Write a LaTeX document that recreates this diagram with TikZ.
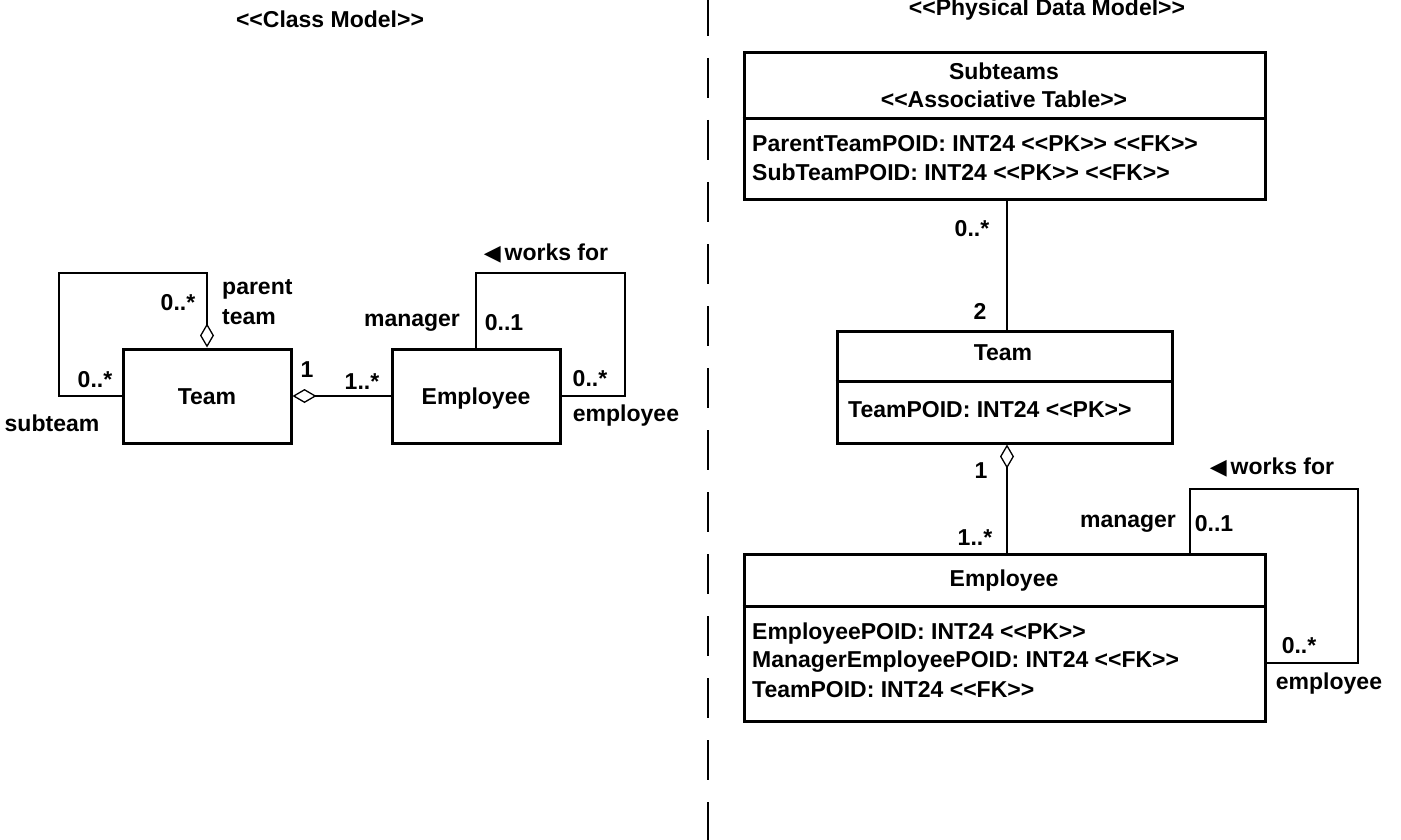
\documentclass[tikz,border=0pt]{standalone}
\usepackage{fontspec}
\setmainfont{Liberation Sans}[Ligatures=TeXOff]
\newfontfamily\symfont{DejaVu Sans}
\usetikzlibrary{arrows.meta}
\newcommand{\dirtriangle}{{\symfont\fontsize{22}{22}\selectfont ◀}}
\begin{document}
\begin{tikzpicture}[x=1pt,y=-1pt,
  every node/.style={inner sep=0pt,font=\fontsize{23}{30}\selectfont\bfseries},
  umlbox/.style={draw,line width=3pt},
  classbox/.style={umlbox,minimum width=168pt,minimum height=94pt,text height=20pt,text depth=4pt},
  divider/.style={line width=3pt},
  assoc/.style={line width=1.3pt},
  aggr/.style={assoc,{Diamond[open,length=24pt,width=14pt]}-},
  attr/.style={anchor=west},
  sepline/.style={line width=2pt,dash pattern=on 40pt off 22pt}]
\useasboundingbox (0,0) rectangle (1401,840);

% separator between the two models
\coordinate (septop) at (707.5,-4);
\coordinate (sepbot) at (707.5,846);
\draw[sepline] (septop) -- (sepbot);

% ---------------- class model ----------------
\node (ttlclass) at (330,19) {<<Class Model>>};

\node[classbox] (cteam) at (207,396) {Team};
\node[classbox] (cemp) at (476,396) {Employee};

% team aggregates employees
\draw[aggr] (cteam.east) -- (cemp.west);
\node (cm1) at (307,370) {1};
\node (cm2) at (362,382) {1..*};

% team hierarchy
\coordinate (cloopA) at (59,273);
\draw[aggr] (cteam.north) |- (cloopA) |- (cteam.west);
\node (cm3) at (178,303) {0..*};
\node[anchor=west,align=left] (cparent) at (222,302) {parent\\team};
\node (cm4) at (95,380) {0..*};
\node (csub) at (52,423) {subteam};

% management
\coordinate (cloopB) at (625,273);
\draw[assoc] (cemp.north) |- (cloopB) |- (cemp.east);
\node (cworks) at (546,254) {\dirtriangle\,works for};
\node (cmgr) at (412,323) {manager};
\node (cm5) at (504,323) {0..1};
\node (cm6) at (590,379) {0..*};
\node (cempl) at (626,416) {employee};

% ---------------- physical data model ----------------
\node[anchor=base] (ttlphys) at (1047,16) {<<Physical Data Model>>};

% Subteams table
\node[umlbox,minimum width=521pt,minimum height=147pt] (psub) at (1004.5,126.5) {};
\draw[divider] (psub.west |- 0,119) -- (psub.east |- 0,119);
\node (psubname) at (1004,71) {Subteams};
\node (psubster) at (1004,99) {<<Associative Table>>};
\node[attr] (psubA) at (752,144) {ParentTeamPOID: INT24 <<PK>> <<FK>>};
\node[attr] (psubB) at (752,172) {SubTeamPOID: INT24 <<PK>> <<FK>>};

% Team table
\node[umlbox,minimum width=335pt,minimum height=112pt] (pteam) at (1004.5,387) {};
\draw[divider] (pteam.west |- 0,381) -- (pteam.east |- 0,381);
\node (pteamname) at (1003,353) {Team};
\node[attr] (pteamA) at (848,410) {TeamPOID: INT24 <<PK>>};

% Employee table
\node[umlbox,minimum width=521pt,minimum height=167pt] (pemp) at (1004.5,637.5) {};
\draw[divider] (pemp.west |- 0,606) -- (pemp.east |- 0,606);
\node (pempname) at (1004,581) {Employee};
\node[attr] (pempA) at (752,634) {EmployeePOID: INT24 <<PK>>};
\node[attr] (pempB) at (752,662) {ManagerEmployeePOID: INT24 <<FK>>};
\node[attr] (pempC) at (752,690) {TeamPOID: INT24 <<FK>>};

% Subteams to Team
\coordinate (pmid) at (1007,0);
\draw[assoc] (psub.south -| pmid) -- (pteam.north -| pmid);
\node (pm1) at (972,229) {0..*};
\node (pm2) at (980,311) {2};

% Team aggregates Employee
\draw[aggr] (pteam.south -| pmid) -- (pemp.north -| pmid);
\node (pm3) at (981,471) {1};
\node (pm4) at (975,538) {1..*};

% management
\coordinate (ploopA) at (1190,0);
\coordinate (ploopB) at (1358,489);
\draw[assoc] (pemp.north -| ploopA) |- (ploopB) |- (pemp.east |- 0,663);
\node (pworks) at (1272,468) {\dirtriangle\,works for};
\node (pmgr) at (1128,524) {manager};
\node (pm5) at (1214,524) {0..1};
\node (pm6) at (1299,646) {0..*};
\node (pempl) at (1329,684) {employee};
\end{tikzpicture}
\end{document}
